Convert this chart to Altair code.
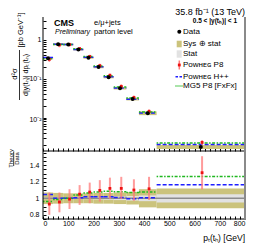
import altair as alt
import pandas as pd

# ---------------- data ----------------
bin_lo = [0, 40, 80, 120, 160, 200, 240, 280, 330, 380, 450]
bin_hi = [40, 80, 120, 160, 200, 240, 280, 330, 380, 450, 800]
xsec = [0.34, 0.78, 0.77, 0.57, 0.35, 0.20, 0.11, 0.057, 0.030, 0.0130, 0.00175]
sys_rel = [0.07, 0.065, 0.06, 0.06, 0.06, 0.065, 0.065, 0.07, 0.075, 0.11, 0.12]
stat_rel = [0.01, 0.008, 0.008, 0.01, 0.012, 0.015, 0.018, 0.022, 0.028, 0.035, 0.05]
p8_ratio = [0.93, 0.955, 0.99, 1.05, 1.075, 1.095, 1.12, 1.12, 1.10, 1.115, 1.31]
p8_lo = [0.80, 0.83, 0.87, 0.92, 0.94, 0.96, 0.99, 0.99, 0.97, 0.98, 1.11]
p8_hi = [1.07, 1.07, 1.11, 1.16, 1.19, 1.22, 1.25, 1.26, 1.23, 1.26, 1.51]
hpp_ratio = [1.045, 1.0, 1.0, 1.005, 1.02, 1.02, 1.02, 1.01, 0.995, 1.005, 1.165]
mg5_ratio = [0.96, 0.985, 1.0, 1.04, 1.065, 1.075, 1.085, 1.08, 1.07, 1.075, 1.265]

x_ticks = list(range(0, 801, 20))
logy_ticks = ([m * 1e-3 for m in range(2, 10)] + [m * 1e-2 for m in range(1, 10)]
              + [m * 1e-1 for m in range(1, 10)] + [1, 2, 3])
ratio_ticks = [round(0.75 + 0.05 * i, 2) for i in range(17)]

FONT = "Liberation Sans"
W, H1, H2 = 202, 134, 68
OLIVE = "#cbc37c"
STATG = "#e2e2e2"
BLUE = "#1f1fff"
GREEN = "#1fb81f"
RED = "#ee1111"
PINK = "#ff7a7a"

rows = []
for i in range(len(bin_lo)):
    mid = 0.5 * (bin_lo[i] + bin_hi[i])
    d = xsec[i]
    rows.append(dict(
        lo=bin_lo[i], hi=bin_hi[i], mid=mid, xr=mid + 5, data=d,
        sys_dn=d * (1 - sys_rel[i]), sys_up=d * (1 + sys_rel[i]),
        r_sys_dn=1 - sys_rel[i], r_sys_up=1 + sys_rel[i],
        r_stat_dn=1 - stat_rel[i], r_stat_up=1 + stat_rel[i],
        p8=d * p8_ratio[i], p8_lo=d * p8_lo[i], p8_hi=d * p8_hi[i],
        hpp=d * hpp_ratio[i], mg5=d * mg5_ratio[i],
        r_p8=p8_ratio[i], r_p8_lo=p8_lo[i], r_p8_hi=p8_hi[i],
        r_hpp=hpp_ratio[i], r_mg5=mg5_ratio[i],
    ))
df = pd.DataFrame(rows)
one = pd.DataFrame({"k": [0]})

xs = alt.Scale(domain=[0, 800], nice=False, zero=False)
ys1 = alt.Scale(type="log", domain=[1.377e-3, 3.915], nice=False)
ys2 = alt.Scale(domain=[0.749, 1.573], nice=False, zero=False)

ax_common = dict(domain=False, grid=False, title=None, tickColor="black",
                 labelColor="black", labelFont=FONT, labelFontSize=7,
                 tickSize=3, offset=-3)

x_up_axis = alt.Axis(values=x_ticks, labels=False, **ax_common)
x_lo_axis = alt.Axis(values=x_ticks, labelPadding=0,
                     labelExpr="datum.value % 100 == 0 ? format(datum.value, 'd') : ''",
                     **ax_common)
y_up_axis = alt.Axis(values=logy_ticks, labelPadding=2,
                     labelExpr="(datum.value > 0.9 && datum.value < 1.1) ? '1' : "
                               "(datum.value > 0.09 && datum.value < 0.11) ? '10\u207b\u00b9' : "
                               "(datum.value > 0.009 && datum.value < 0.011) ? '10\u207b\u00b2' : ''",
                     **ax_common)
y_lo_axis = alt.Axis(values=ratio_ticks, labelPadding=4,
                     labelExpr="abs(datum.value*5 - round(datum.value*5)) < 0.001 ? format(datum.value, '~g') : ''",
                     **ax_common)


def txt(s, x, y, size=8, align="left", baseline="middle", **kw):
    return alt.Chart(one).mark_text(text=s, font=FONT, fontSize=size, align=align,
                                    baseline=baseline, color="black", **kw).encode(
        x=alt.value(x), y=alt.value(y))


def hrule(x1, x2, y, **kw):
    return alt.Chart(one).mark_rule(**kw).encode(x=alt.value(x1), x2=alt.value(x2), y=alt.value(y))


def vrule(x, y1, y2, **kw):
    return alt.Chart(one).mark_rule(**kw).encode(x=alt.value(x), y=alt.value(y1), y2=alt.value(y2))


def box(x1, x2, y1, y2, color):
    return alt.Chart(one).mark_rect(color=color).encode(
        x=alt.value(x1), x2=alt.value(x2), y=alt.value(y1), y2=alt.value(y2))


base = alt.Chart(df)


def XU(f):
    return alt.X(f, type="quantitative", scale=xs, axis=x_up_axis)


def YU(f):
    return alt.Y(f, type="quantitative", scale=ys1, axis=y_up_axis)


def XL(f):
    return alt.X(f, type="quantitative", scale=xs, axis=x_lo_axis)


def YL(f):
    return alt.Y(f, type="quantitative", scale=ys2, axis=y_lo_axis)


# ---------------- upper panel ----------------
up_sys = base.mark_rect(color=OLIVE).encode(x=XU("lo"), x2="hi:Q", y=YU("sys_dn"), y2="sys_up:Q")
up_hpp = base.mark_rule(color=BLUE, strokeWidth=1.5, strokeDash=[4, 2]).encode(
    x=XU("lo"), x2="hi:Q", y=YU("hpp"))
up_mg5 = base.mark_rule(color=GREEN, strokeWidth=1.5, strokeDash=[1.5, 1.5, 3, 1.5]).encode(
    x=XU("lo"), x2="hi:Q", y=YU("mg5"))
up_p8e = base.mark_rule(color=PINK, strokeWidth=1.5, opacity=0.8).encode(
    x=XU("xr"), y=YU("p8_lo"), y2="p8_hi:Q")
up_p8 = base.mark_square(color=RED, size=8, opacity=1).encode(x=XU("xr"), y=YU("p8"))
up_data = base.mark_circle(color="black", size=16, opacity=1).encode(x=XU("mid"), y=YU("data"))

up_deco = [
    vrule(0, 0, H1, color="black", strokeWidth=1),
    hrule(0, W, H1, color="black", strokeWidth=1),
    vrule(W, 0, H1, color="#8a8a8a", strokeWidth=2),
    txt("35.8 fb\u207b\u00b9 (13 TeV)", W, 0, size=9, align="right", baseline="bottom"),
    txt("CMS", 11, 5.5, size=9, fontWeight="bold"),
    txt("Preliminary", 12, 14.7, size=7, fontStyle="italic"),
    txt("e/\u03bc+jets", 51, 6.3, size=7.5),
    txt("parton level", 51, 15.3, size=7.5),
    txt("0.5 < |y(t\u2095)| < 1", 194, 3.7, size=6.5, align="right", fontWeight="bold"),
    # legend
    alt.Chart(one).mark_circle(color="black", size=16, opacity=1).encode(
        x=alt.value(136.3), y=alt.value(14.7)),
    txt("Data", 140, 14.7, size=8),
    box(133.7, 138.7, 23.7, 30.3, OLIVE),
    txt("Sys \u2295 stat", 140, 27, size=8),
    box(133.7, 138.7, 33.3, 40.7, STATG),
    txt("Stat", 140, 37, size=8),
    vrule(136.3, 43.5, 52.5, color=PINK, strokeWidth=1.5),
    alt.Chart(one).mark_square(color=RED, size=8, opacity=1).encode(
        x=alt.value(136.3), y=alt.value(48)),
    txt("P\u1d0f\u1d21\u029c\u1d07\u0262 P8", 140, 48, size=8),
    hrule(132.5, 139.5, 59.7, color=BLUE, strokeWidth=1.5, strokeDash=[2.5, 1.5]),
    txt("P\u1d0f\u1d21\u029c\u1d07\u0262 H++", 140, 59.7, size=8),
    hrule(132.5, 139.5, 69, color=GREEN, strokeWidth=1.5, strokeDash=[1, 1]),
    txt("MG5 P8 [FxFx]", 140, 69, size=8),
    # y title
    txt("[pb GeV\u207b\u00b9]", -22, 13, size=7.5, align="center", angle=270),
    txt("d\u00b2\u03c3", -28.5, 57, size=7.5, align="center", angle=270),
    vrule(-23.5, 33, 83, color="black", strokeWidth=0.8),
    txt("d|y(t\u2095)| dp\u209c(t\u2095)", -17.5, 58, size=7, align="center", angle=270),
]

upper = alt.layer(up_sys, up_hpp, up_mg5, up_p8e, up_p8, up_data, *up_deco).properties(
    width=W, height=H1)

# ---------------- lower panel ----------------
lo_sys = base.mark_rect(color=OLIVE).encode(x=XL("lo"), x2="hi:Q", y=YL("r_sys_dn"), y2="r_sys_up:Q")
lo_stat = base.mark_rect(color=STATG).encode(x=XL("lo"), x2="hi:Q", y=YL("r_stat_dn"), y2="r_stat_up:Q")
lo_one = alt.Chart(one).mark_rule(color="#8c8c8c", strokeWidth=1.5).encode(
    x=alt.value(0), x2=alt.value(W), y=alt.datum(1, scale=ys2, axis=y_lo_axis))
lo_hpp = base.mark_rule(color=BLUE, strokeWidth=1.5, strokeDash=[4, 2]).encode(
    x=XL("lo"), x2="hi:Q", y=YL("r_hpp"))
lo_mg5 = base.mark_rule(color=GREEN, strokeWidth=1.5, strokeDash=[1.5, 1.5, 3, 1.5]).encode(
    x=XL("lo"), x2="hi:Q", y=YL("r_mg5"))
lo_p8e = base.mark_rule(color=PINK, strokeWidth=2, opacity=0.75).encode(
    x=XL("xr"), y=YL("r_p8_lo"), y2="r_p8_hi:Q")
lo_p8 = base.mark_square(color=RED, size=8, opacity=1).encode(x=XL("xr"), y=YL("r_p8"))

lo_deco = [
    vrule(0, 0, H2, color="black", strokeWidth=1),
    hrule(0, W, H2, color="black", strokeWidth=1),
    vrule(W, 0, H2, color="#8a8a8a", strokeWidth=2),
    txt("Theory", -32, 7.3, size=6, align="center", angle=270),
    vrule(-29.3, 0.7, 15, color="black", strokeWidth=0.8),
    txt("Data", -26.3, 7.5, size=6, align="center", angle=270),
    txt("p\u209c(t\u2095) [GeV]", W, 87, size=8.5, align="right"),
]

lower = alt.layer(lo_sys, lo_stat, lo_one, lo_hpp, lo_mg5, lo_p8e, lo_p8, *lo_deco).properties(
    width=W, height=H2)

chart = alt.vconcat(upper, lower, spacing=0, bounds="flush").properties(
    padding=0).configure_view(stroke=None)

chart.save("out.html", embed_options={"renderer": "svg", "actions": False})
